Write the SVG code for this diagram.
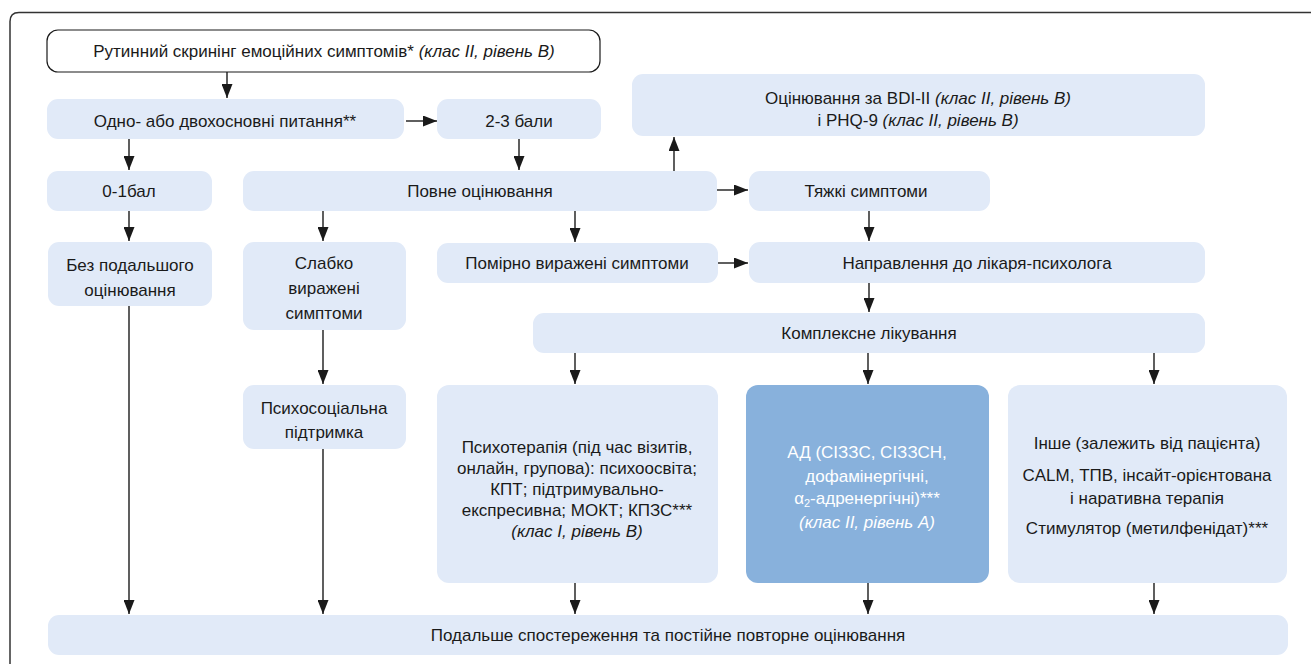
<svg xmlns="http://www.w3.org/2000/svg" width="1311" height="664" viewBox="0 0 1311 664">
<defs>
<marker id="ah" markerUnits="userSpaceOnUse" markerWidth="14" markerHeight="11" refX="14" refY="5.5" orient="auto">
<path d="M0,0 L14,5.5 L0,11 z" fill="#1a1a1a"/>
</marker>
<style>
.b{fill:#e1eaf8;stroke:none}
.d{fill:#88b1dc;stroke:none}
.w{fill:#ffffff;stroke:#1a1a1a;stroke-width:1.2}
text{font-family:"Liberation Sans","DejaVu Sans",sans-serif;font-size:17px;fill:#1a1a1a;text-anchor:middle}
.i{font-style:italic}
.wt{fill:#ffffff}
.c line{stroke:#1a1a1a;stroke-width:1.4;marker-end:url(#ah)}
</style>
</defs>
<rect width="1311" height="664" fill="#ffffff"/>
<path d="M1311,12.5 H19 Q10,12.5 10,21.5 V664" fill="none" stroke="#333333" stroke-width="1.5"/>

<g id="n1"><rect class="w" x="47" y="30" width="553" height="42" rx="11"/><text x="324" y="57">Рутинний скринінг емоційних симптомів* <tspan class="i">(клас II, рівень В)</tspan></text></g>
<g id="n2"><rect class="b" x="47" y="99" width="357" height="40" rx="11"/><text x="225" y="127">Одно- або двохосновні питання**</text></g>
<g id="n3"><rect class="b" x="437" y="99" width="164" height="40" rx="11"/><text x="519" y="127">2-3 бали</text></g>
<g id="n4"><rect class="b" x="632" y="74" width="573" height="62" rx="11"/><text x="918" y="104">Оцінювання за BDI-II <tspan class="i">(клас II, рівень В)</tspan></text><text x="918" y="126">і PHQ-9 <tspan class="i">(клас II, рівень В)</tspan></text></g>
<g id="n5"><rect class="b" x="47" y="171" width="165" height="40" rx="11"/><text x="129" y="197">0-1бал</text></g>
<g id="n6"><rect class="b" x="243" y="171" width="474" height="40" rx="11"/><text x="480" y="197">Повне оцінювання</text></g>
<g id="n7"><rect class="b" x="749" y="171" width="241" height="40" rx="11"/><text x="866" y="197">Тяжкі симптоми</text></g>
<g id="n8"><rect class="b" x="48" y="242" width="164" height="64" rx="11"/><text x="130" y="271">Без подальшого</text><text x="130" y="296">оцінювання</text></g>
<g id="n9"><rect class="b" x="243" y="242" width="163" height="88" rx="11"/><text x="324" y="269">Слабко</text><text x="324" y="294">виражені</text><text x="324" y="319">симптоми</text></g>
<g id="n10"><rect class="b" x="437" y="243" width="281" height="40" rx="11"/><text x="577" y="269">Помірно виражені симптоми</text></g>
<g id="n11"><rect class="b" x="749" y="242" width="456" height="41" rx="11"/><text x="977" y="269">Направлення до лікаря-психолога</text></g>
<g id="n12"><rect class="b" x="533" y="313" width="672" height="40" rx="11"/><text x="869" y="339">Комплексне лікування</text></g>
<g id="n13"><rect class="b" x="243" y="385" width="163" height="64" rx="11"/><text x="324" y="414">Психосоціальна</text><text x="324" y="438">підтримка</text></g>
<g id="n14"><rect class="b" x="437" y="385" width="281" height="198" rx="12"/>
<text x="577" y="453">Психотерапія (під час візитів,</text>
<text x="577" y="474">онлайн, групова): психоосвіта;</text>
<text x="577" y="495">КПТ; підтримувально-</text>
<text x="577" y="516">експресивна; МОКТ; КПЗС***</text>
<text x="577" y="537" class="i">(клас I, рівень В)</text></g>
<g id="n15"><rect class="d" x="746" y="385" width="243" height="198" rx="12"/>
<text class="wt" x="867" y="458">АД (СІЗЗС, СІЗЗСН,</text>
<text class="wt" x="867" y="482">дофамінергічні,</text>
<text class="wt" x="867" y="504">α<tspan font-size="11" dy="3">2</tspan><tspan dy="-3">-адренергічні)***</tspan></text>
<text class="wt i" x="867" y="528">(клас II, рівень А)</text></g>
<g id="n16"><rect class="b" x="1008" y="385" width="279" height="198" rx="12"/>
<text x="1147" y="449">Інше (залежить від пацієнта)</text>
<text x="1147" y="481">CALM, ТПВ, інсайт-орієнтована</text>
<text x="1147" y="504">і наративна терапія</text>
<text x="1147" y="534">Стимулятор (метилфенідат)***</text></g>
<g id="n17"><rect class="b" x="48" y="615" width="1240" height="40" rx="11"/><text x="668" y="641">Подальше спостереження та постійне повторне оцінювання</text></g>

<g class="c" id="connectors">
<line x1="227" y1="72" x2="227" y2="98"/>
<line x1="406" y1="121" x2="437" y2="121"/>
<line x1="129" y1="139" x2="129" y2="170"/>
<line x1="519" y1="139" x2="519" y2="170"/>
<line x1="674" y1="171" x2="674" y2="137"/>
<line x1="129" y1="211" x2="129" y2="241"/>
<line x1="323" y1="211" x2="323" y2="241"/>
<line x1="575" y1="211" x2="575" y2="242"/>
<line x1="717" y1="190" x2="748" y2="190"/>
<line x1="869" y1="211" x2="869" y2="241"/>
<line x1="718" y1="263" x2="748" y2="263"/>
<line x1="869" y1="283" x2="869" y2="312"/>
<line x1="323" y1="330" x2="323" y2="384"/>
<line x1="575" y1="353" x2="575" y2="384"/>
<line x1="868" y1="353" x2="868" y2="384"/>
<line x1="1154" y1="353" x2="1154" y2="384"/>
<line x1="129" y1="306" x2="129" y2="614"/>
<line x1="323" y1="449" x2="323" y2="614"/>
<line x1="575" y1="583" x2="575" y2="614"/>
<line x1="868" y1="583" x2="868" y2="614"/>
<line x1="1154" y1="583" x2="1154" y2="614"/>
</g>
</svg>
